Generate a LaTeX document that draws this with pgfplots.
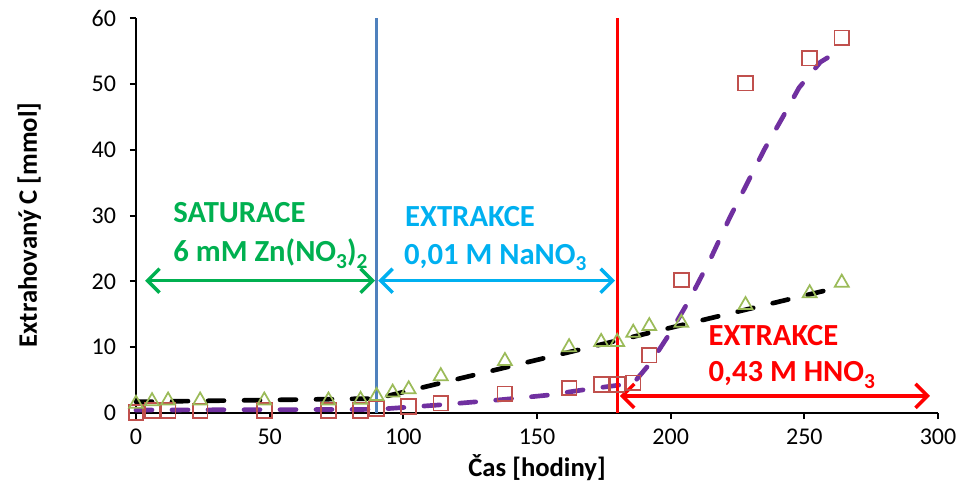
\documentclass[border=0pt]{standalone}
\usepackage{pgfplots}
\pgfplotsset{compat=1.18}
\usepackage{fontspec}
\setmainfont{Carlito}
\usetikzlibrary{arrows.meta}
\definecolor{cgreen}{HTML}{00B050}
\definecolor{ccyan}{HTML}{00B0F0}
\definecolor{cred}{HTML}{FF0000}
\definecolor{cblue}{HTML}{4F81BD}
\definecolor{csq}{HTML}{C0504D}
\definecolor{ctri}{HTML}{9BBB59}
\definecolor{cpurple}{HTML}{7030A0}
\newcommand{\sub}[1]{\raisebox{-0.45ex}{\fontsize{16}{16}\selectfont #1}}
\begin{document}
\begin{tikzpicture}
\begin{axis}[
  at={(0,0)}, anchor=south west,
  scale only axis, width=601.5pt, height=296.25pt,
  xmin=0, xmax=300, ymin=0, ymax=60,
  xtick={0,50,...,300}, ytick={0,10,...,60},
  axis lines*=left,
  axis line style={line width=1.5pt},
  tick align=outside, major tick length=4.5pt,
  tick style={line width=1.5pt, black},
  /pgf/number format/assume math mode=true,
  ticklabel style={font=\fontsize{18}{21}\selectfont},
  xticklabel style={yshift=-4pt},
  yticklabel style={xshift=-7pt},
  xlabel={Čas [hodiny]}, ylabel={Extrahovaný C [mmol]},
  every axis x label/.style={at={(axis description cs:0.5,0)}, anchor=center, yshift=-41pt, font=\bfseries\fontsize{20}{24}\selectfont},
  every axis y label/.style={at={(axis description cs:0,0.476)}, anchor=center, rotate=90, yshift=80pt, font=\bfseries\fontsize{20}{24}\selectfont},
  clip=false,
]
% squares
\addplot[only marks, mark=square, mark size=5.5pt, mark options={draw=csq, line width=1.3pt, fill=none}] coordinates {
(0,0.1) (6,0.4) (12,0.4) (24,0.3) (48,0.4) (72,0.4) (84,0.4) (90,0.7) (102,1.0) (114,1.5) (138,2.9) (162,3.8) (174,4.3) (180,4.3) (186,4.6) (192,8.8) (204,20.2) (228,50.1) (252,53.9) (264,57.0)
};
% triangles
\addplot[only marks, mark=triangle, mark size=6pt, mark options={draw=ctri, line width=1.3pt, fill=none}] coordinates {
(0,1.4) (6,1.8) (12,1.9) (24,1.9) (48,1.9) (72,1.9) (84,2.0) (90,2.6) (96,3.1) (102,3.6) (114,5.6) (138,7.9) (162,10.0) (174,10.8) (180,10.8) (186,12.2) (192,13.2) (204,13.7) (228,16.4) (252,18.2) (264,19.8)
};
% trend black
\addplot[black, line width=3.5pt, line cap=round, dash pattern=on 12pt off 15pt, mark=none] coordinates {
(0,1.7) (90,2.2) (180,11.0) (264,19.2)
};
% trend purple
\addplot[cpurple, line width=3.5pt, line cap=round, dash pattern=on 12pt off 15pt, mark=none] coordinates {
(0,0.45) (90,0.55) (98.7,0.8) (112.6,1.2) (136,2.0) (153.7,2.7) (168.7,3.6) (180,4.2) (186,4.5) (192,7.4) (196,9.8) (200,12.3) (207,17.2) (215,23.5) (222,29.6) (235,40) (242,45) (248,49.4) (256,53.3) (260,54.3)
};
% vertical lines
\draw[cblue, line width=2pt] (axis cs:90,0) -- (axis cs:90,60);
\draw[cred, line width=2pt] (axis cs:180,0) -- (axis cs:180,60);
% arrows
\draw[cgreen, line width=2.6pt, {Straight Barb[length=9pt,width=18pt]}-{Straight Barb[length=9pt,width=18pt]}] (axis cs:3.4,20.1) -- (axis cs:89.4,20.1);
\draw[ccyan, line width=2.6pt, {Straight Barb[length=9pt,width=18pt]}-{Straight Barb[length=9pt,width=18pt]}] (axis cs:90.6,20.1) -- (axis cs:179.2,20.1);
\draw[cred, line width=2.6pt, {Straight Barb[length=9pt,width=18pt]}-{Straight Barb[length=9pt,width=18pt]}] (axis cs:181,2.6) -- (axis cs:297,2.6);
% texts
\node[anchor=base west, inner sep=0pt, text=cgreen, font=\bfseries\fontsize{23}{27}\selectfont] at (axis cs:13.9,29.0) {SATURACE};
\node[anchor=base west, inner sep=0pt, text=cgreen, font=\bfseries\fontsize{23}{27}\selectfont] at (axis cs:13.9,23.0) {6 mM Zn(NO\sub{3})\sub{2}};
\node[anchor=base west, inner sep=0pt, text=ccyan, font=\bfseries\fontsize{23}{27}\selectfont] at (axis cs:100.6,28.4) {EXTRAKCE};
\node[anchor=base west, inner sep=0pt, text=ccyan, font=\bfseries\fontsize{23}{27}\selectfont] at (axis cs:100.2,22.6) {0,01 M NaNO\sub{3}};
\node[anchor=base west, inner sep=0pt, text=cred, font=\bfseries\fontsize{23}{27}\selectfont] at (axis cs:214.1,10.3) {EXTRAKCE};
\node[anchor=base west, inner sep=0pt, text=cred, font=\bfseries\fontsize{23}{27}\selectfont] at (axis cs:214.1,4.8) {0,43 M HNO\sub{3}};
\end{axis}
\pgfresetboundingbox
\path[use as bounding box] (-102pt,-60pt) rectangle (617.25pt,309.75pt);
\end{tikzpicture}
\end{document}
